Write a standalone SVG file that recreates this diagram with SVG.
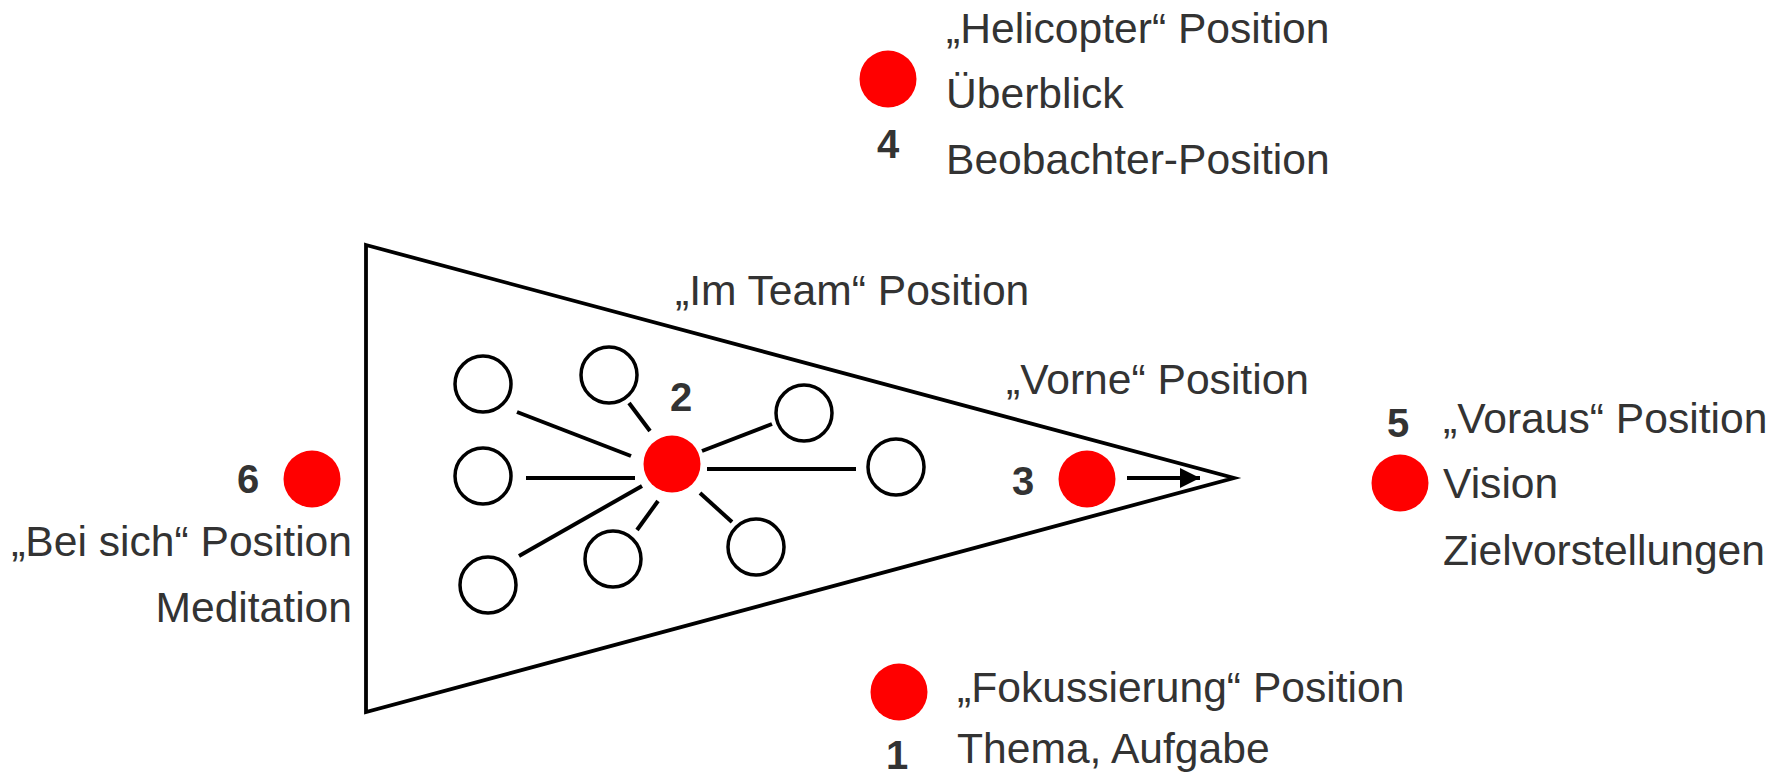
<svg xmlns="http://www.w3.org/2000/svg" width="1787" height="773" viewBox="0 0 1787 773">
<defs>
<style>
.t{font-family:"Liberation Sans",Arial,sans-serif;font-size:42.6px;fill:#333333}
.n{font-family:"Liberation Sans",Arial,sans-serif;font-size:40px;font-weight:bold;fill:#333333;text-anchor:middle}
.dot{fill:#ff0000}
.ring{fill:#ffffff;stroke:#000000;stroke-width:3.5}
.ln{stroke:#000000;stroke-width:4;fill:none}
</style>
<marker id="ah" viewBox="0 0 10 10" refX="10" refY="5" markerWidth="5" markerHeight="5" orient="auto" markerUnits="strokeWidth">
<path d="M0,0 L10,5 L0,10 z" fill="#000000"/>
</marker>
</defs>
<rect width="1787" height="773" fill="#ffffff"/>
<g id="triangle">
<polygon points="366,245 1234,478 366,712" fill="#ffffff" stroke="#000000" stroke-width="3.8" stroke-linejoin="miter"/>
</g>
<g id="connectors">
<line class="ln" x1="517" y1="412" x2="631" y2="456"/>
<line class="ln" x1="629" y1="403" x2="650" y2="431"/>
<line class="ln" x1="526" y1="478" x2="635" y2="478"/>
<line class="ln" x1="519" y1="556" x2="642" y2="486"/>
<line class="ln" x1="637" y1="530" x2="658" y2="501"/>
<line class="ln" x1="700" y1="493" x2="732" y2="522"/>
<line class="ln" x1="702" y1="451" x2="772" y2="424"/>
<line class="ln" x1="707" y1="469" x2="856" y2="469"/>
<line class="ln" x1="1127" y1="478" x2="1200" y2="478" marker-end="url(#ah)"/>
</g>
<g id="members">
<circle class="ring" cx="483" cy="384" r="28"/>
<circle class="ring" cx="609" cy="375" r="28"/>
<circle class="ring" cx="483" cy="476" r="28"/>
<circle class="ring" cx="488" cy="585" r="28"/>
<circle class="ring" cx="613" cy="559" r="28"/>
<circle class="ring" cx="756" cy="547" r="28"/>
<circle class="ring" cx="804" cy="413" r="28"/>
<circle class="ring" cx="896" cy="467" r="28"/>
</g>
<g id="node4">
<circle class="dot" cx="888" cy="79" r="28.5"/>
<text class="n" x="888" y="158">4</text>
<text class="t" x="946" y="43">„Helicopter“ Position</text>
<text class="t" x="946" y="108">Überblick</text>
<text class="t" x="946" y="174">Beobachter-Position</text>
</g>
<g id="node2">
<circle class="dot" cx="672" cy="464" r="28.5"/>
<text class="n" x="681" y="411">2</text>
<text class="t" x="675" y="305">„Im Team“ Position</text>
</g>
<g id="node3">
<circle class="dot" cx="1087" cy="479" r="28.5"/>
<text class="n" x="1023" y="495">3</text>
<text class="t" x="1006" y="394">„Vorne“ Position</text>
</g>
<g id="node5">
<circle class="dot" cx="1400" cy="483" r="28.5"/>
<text class="n" x="1398" y="437">5</text>
<text class="t" x="1443" y="433">„Voraus“ Position</text>
<text class="t" x="1443" y="498">Vision</text>
<text class="t" x="1443" y="565">Zielvorstellungen</text>
</g>
<g id="node6">
<circle class="dot" cx="312" cy="479" r="28.5"/>
<text class="n" x="248" y="493">6</text>
<text class="t" x="352" y="556" text-anchor="end">„Bei sich“ Position</text>
<text class="t" x="352" y="622" text-anchor="end">Meditation</text>
</g>
<g id="node1">
<circle class="dot" cx="899" cy="692" r="28.5"/>
<text class="n" x="897" y="769">1</text>
<text class="t" x="957" y="702">„Fokussierung“ Position</text>
<text class="t" x="957" y="763">Thema, Aufgabe</text>
</g>
</svg>
